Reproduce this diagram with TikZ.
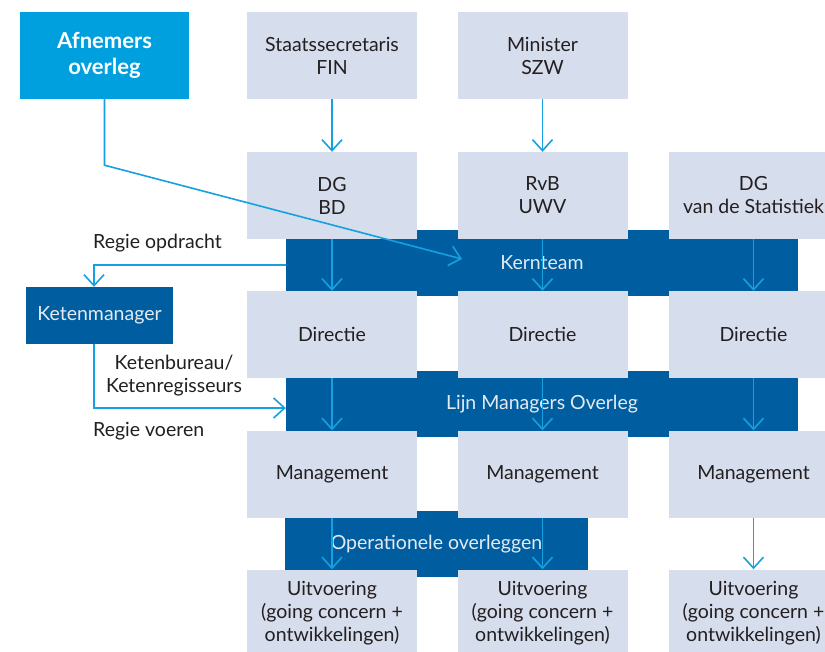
\documentclass[tikz,border=0pt]{standalone}
\usepackage{fontspec}
\setmainfont{Lato}
\usetikzlibrary{arrows.meta}
\definecolor{boxgray}{RGB}{214,221,236}
\definecolor{darkband}{RGB}{0,94,160}
\definecolor{brightblue}{RGB}{0,160,223}
\definecolor{arrowblue}{RGB}{20,160,225}
\definecolor{txt}{RGB}{35,31,32}
\definecolor{bandtxt}{RGB}{228,234,242}
\begin{document}
\begin{tikzpicture}[x=1pt,y=-1pt,
  lbox/.style={fill=boxgray, draw=none, minimum width=170pt, minimum height=87pt, inner sep=0pt, text=txt, align=center, font=\fontsize{19.5}{23}\selectfont},
  band/.style={fill=darkband, draw=none, minimum height=66pt, inner sep=0pt, text=bandtxt, font=\fontsize{19.5}{23}\selectfont},
  arr/.style={draw=arrowblue, line width=1.6pt, -{Straight Barb[length=11pt,width=20pt]}},
  lbl/.style={text=txt, font=\fontsize{19.5}{23}\selectfont, inner sep=0pt}
]
\useasboundingbox (0,0) rectangle (825,651);
% bands
\node[band, minimum width=512pt] (kern) at (542,263) {Kernteam};
\node[band, minimum width=512pt] (lijn) at (542,404) {Lijn Managers Overleg};
\node[band, minimum width=303pt] (oper) at (436.5,544) {Operationele overleggen};
% boxes
\node[fill=brightblue, minimum width=169pt, minimum height=87pt, inner sep=0pt, text=white, align=center, font=\bfseries\fontsize{22}{26}\selectfont] (afn) at (104.5,55.5) {Afnemers\\overleg};
\node[lbox] (sfin) at (332,55.5) {Staatssecretaris\\FIN};
\node[lbox] (mszw) at (542.5,55.5) {Minister\\SZW};
\node[lbox] (dgbd) at (332,195.5) {DG\\BD};
\node[lbox] (rvb) at (542.5,195.5) {RvB\\UWV};
\node[lbox] (dgst) at (753.5,195.5) {DG\\van de Statistiek};
\node[lbox] (dir1) at (332,334.5) {Directie};
\node[lbox] (dir2) at (542.5,334.5) {Directie};
\node[lbox] (dir3) at (753.5,334.5) {Directie};
\node[lbox] (man1) at (332,474) {Management};
\node[lbox] (man2) at (542.5,474) {Management};
\node[lbox] (man3) at (753.5,474) {Management};
\node[lbox] (uit1) at (332,613) {Uitvoering\\(going concern +\\ontwikkelingen)};
\node[lbox] (uit2) at (542.5,613) {Uitvoering\\(going concern +\\ontwikkelingen)};
\node[lbox] (uit3) at (753.5,613) {Uitvoering\\(going concern +\\ontwikkelingen)};
\node[fill=darkband, minimum width=147pt, minimum height=57pt, inner sep=0pt, text=bandtxt, font=\fontsize{19.5}{23}\selectfont] (km) at (99.5,315.5) {Ketenmanager};
% labels
\node[lbl, anchor=west] (lro) at (93,243) {Regie opdracht};
\node[lbl, align=center] (lkb) at (174,376) {Ketenbureau/\\Ketenregisseurs};
\node[lbl, anchor=west] (lrv) at (93,431) {Regie voeren};
% arrows
\draw[arr] (sfin) -- (dgbd);
\draw[arr] (mszw) -- (rvb);
\draw[arr] (dgbd) -- (dir1);
\draw[arr] (rvb) -- (dir2);
\draw[arr] (dgst) -- (dir3);
\draw[arr] (dir1) -- (man1);
\draw[arr] (dir2) -- (man2);
\draw[arr] (dir3) -- (man3);
\draw[arr] (man1) -- (uit1);
\draw[arr] (man2) -- (uit2);
\draw[arr] (man3) -- (uit3);
\coordinate (ktip) at (462,259);
\draw[arr] (afn.south) -- ++(0,66) -- (ktip);
\draw[arr] ([yshift=-2pt]kern.west) -| ([xshift=-5.5pt]km.north);
\draw[arr] ([xshift=-5.5pt]km.south) |- ([yshift=-4pt]lijn.west);
\end{tikzpicture}
\end{document}
